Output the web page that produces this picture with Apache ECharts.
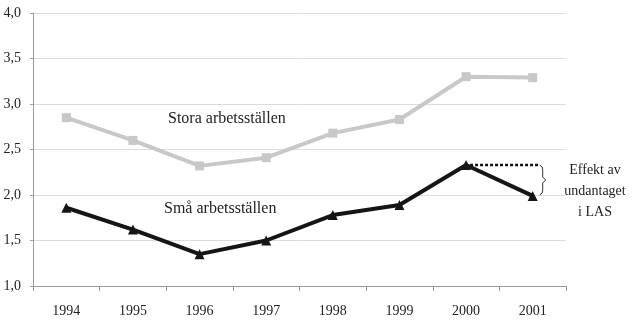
<!DOCTYPE html>
<html><head><meta charset="utf-8">
<script src="https://cdn.jsdelivr.net/npm/echarts@6/dist/echarts.min.js"></script>
<style>html,body{margin:0;padding:0;background:#fff}#c{width:640px;height:328px}</style>
</head><body><div id="c"></div>
<script>
var years = ['1994','1995','1996','1997','1998','1999','2000','2001'];
var stora = [2.85, 2.60, 2.32, 2.41, 2.68, 2.83, 3.30, 3.29];
var sma = [1.86, 1.62, 1.35, 1.50, 1.78, 1.89, 2.33, 1.99];
var yTicks = ['1,0','1,5','2,0','2,5','3,0','3,5','4,0'];
var effectFrom = 2.33, effectTo = 1.99;

var FONT = '"Liberation Serif", "DejaVu Serif", serif';
var chart = echarts.init(document.getElementById('c'), null, {renderer:'canvas'});
chart.setOption({
  animation: false,
  backgroundColor: '#fff',
  grid: {left: 33, right: 74, top: 13, bottom: 42},
  xAxis: {
    type: 'category', data: years, boundaryGap: true,
    axisLine: {lineStyle: {color: '#999', width: 1}},
    axisTick: {show: true, length: 5, lineStyle: {color: '#999'}},
    axisLabel: {color: '#222', fontFamily: FONT, fontSize: 14, margin: 18}
  },
  yAxis: {
    type: 'value', min: 1, max: 4, interval: 0.5,
    axisLine: {show: true, lineStyle: {color: '#999'}},
    axisTick: {show: true, length: 3, lineStyle: {color: '#999'}},
    splitLine: {lineStyle: {color: '#dcdcdc', width: 1}},
    axisLabel: {color: '#222', fontFamily: FONT, fontSize: 14, margin: 12,
      formatter: function(v){ return yTicks[Math.round((v-1)/0.5)]; }}
  },
  series: [
    {name: 'Stora arbetsställen', type: 'line', data: stora,
     symbol: 'rect', symbolSize: 9,
     lineStyle: {color: '#c8c8c8', width: 4},
     itemStyle: {color: '#c8c8c8'}},
    {name: 'Små arbetsställen', type: 'line', data: sma,
     symbol: 'triangle', symbolSize: 10,
     lineStyle: {color: '#151515', width: 4},
     itemStyle: {color: '#151515'}}
  ]
});

var p0 = chart.convertToPixel({xAxisIndex:0, yAxisIndex:0}, ['2000', effectFrom]);
var p1 = chart.convertToPixel({xAxisIndex:0, yAxisIndex:0}, ['2001', effectFrom]);
var p2 = chart.convertToPixel({xAxisIndex:0, yAxisIndex:0}, ['2001', effectTo]);
var bx = p1[0] + 7, ya = p1[1], yb = p2[1] - 1, ym = (ya + yb) / 2;
var bracePts = [[bx, ya], [bx+2.5, ya+2], [bx+3, ya+5], [bx+3, ym-3], [bx+6, ym],
                [bx+3, ym+3], [bx+3, yb-5], [bx+2.5, yb-2], [bx, yb]];

chart.setOption({
  graphic: [
    {type: 'line', shape: {x1: p0[0] + 4, y1: p0[1], x2: bx, y2: p0[1]},
     style: {stroke: '#111', lineWidth: 2.5, lineDash: [3, 2]}},
    {type: 'text', left: 168, top: 111, style: {text: 'Stora arbetsställen', font: '16px ' + FONT, fill: '#222'}},
    {type: 'text', left: 164, top: 201, style: {text: 'Små arbetsställen', font: '16px ' + FONT, fill: '#222'}},
    {type: 'polyline', shape: {points: bracePts}, style: {stroke: '#333', lineWidth: 1, fill: null}},
    {type: 'text', x: 595, y: 160, style: {text: 'Effekt av\nundantaget\ni LAS', font: '14px ' + FONT, fill: '#222', align: 'center', lineHeight: 21}}
  ]
});
</script></body></html>
